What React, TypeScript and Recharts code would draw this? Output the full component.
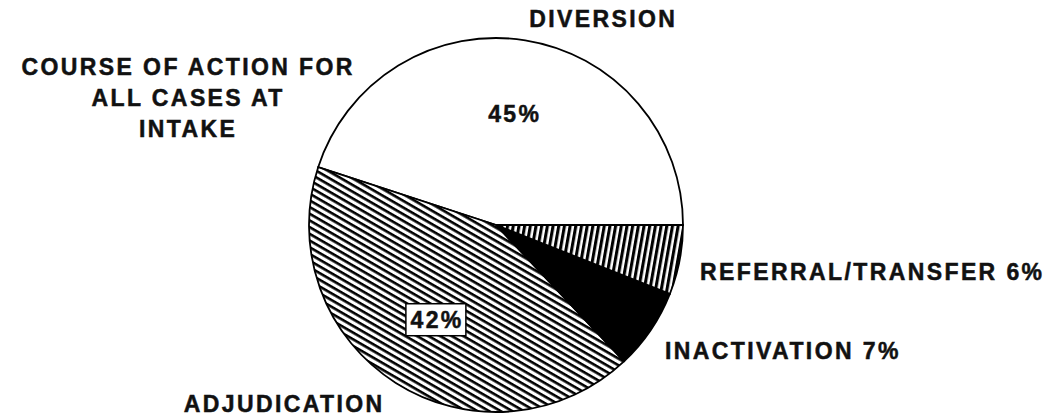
import { Pie, PieChart, Cell } from 'recharts';

const categories = ['DIVERSION', 'ADJUDICATION', 'INACTIVATION', 'REFERRAL/TRANSFER'];
const shares = [45, 42, 7, 6];
const titleLines = ['COURSE OF ACTION FOR', 'ALL CASES AT', 'INTAKE'];

const data = categories.map((name, i) => ({ name, value: shares[i] }));

const fills = ['#ffffff', 'url(#hatchDiag)', '#000000', 'url(#hatchVert)'];

const LS = 2.4;
const font = {
  fontFamily: '"Liberation Sans", Arial, Helvetica, sans-serif',
  fontWeight: 700,
  fontSize: 23,
  letterSpacing: LS,
  fill: '#111',
  stroke: '#111',
  strokeWidth: 0.5,
};

// where the outside labels sit (start anchor), keyed by slice index
const outsideLabels: Record<number, { x: number; y: number }> = {
  2: { x: 665, y: 359 },
  3: { x: 700, y: 280 },
};

const RAD = Math.PI / 180;

function renderLabel(props: any) {
  const { cx, cy, midAngle, outerRadius, index, value, name } = props;
  if (outsideLabels[index]) {
    const p = outsideLabels[index];
    return (
      <text key={name} x={p.x} y={p.y} style={font}>
        {`${name} ${value}%`}
      </text>
    );
  }
  const r = outerRadius * 0.6;
  const x = cx + r * Math.cos(-midAngle * RAD);
  const y = cy + r * Math.sin(-midAngle * RAD);
  return (
    <g key={name}>
      {index === 1 ? <rect x={x - 30} y={y - 16} width={60} height={32} fill="#fff" stroke="#000" strokeWidth={1.5} /> : null}
      <text x={x + LS / 2} y={y + 8} textAnchor="middle" style={font}>
        {`${value}%`}
      </text>
    </g>
  );
}

export default function App() {
  return (
    <div style={{ position: 'absolute', left: 0, top: 0, width: 1048, height: 418, background: '#fff' }}>
      <svg width={0} height={0} style={{ position: 'absolute' }}>
        <defs>
          <pattern id="hatchDiag" patternUnits="userSpaceOnUse" width={12} height={5.8} patternTransform="rotate(30)">
            <rect width={12} height={5.8} fill="#fff" />
            <rect y={0} width={12} height={2.6} fill="#000" />
          </pattern>
          <pattern id="hatchVert" patternUnits="userSpaceOnUse" width={5.6} height={12} patternTransform="rotate(10)">
            <rect width={5.6} height={12} fill="#fff" />
            <rect x={0} width={3.1} height={12} fill="#000" />
          </pattern>
        </defs>
      </svg>
      <PieChart width={1048} height={418} margin={{ top: 0, right: 0, bottom: 0, left: 0 }}>
        <Pie
          data={data}
          dataKey="value"
          nameKey="name"
          cx={496}
          cy={225}
          outerRadius={187}
          startAngle={0}
          endAngle={360}
          stroke="#000"
          strokeWidth={1.8}
          label={renderLabel}
          labelLine={false}
          isAnimationActive={false}
        >
          {data.map((d, i) => (
            <Cell key={d.name} fill={fills[i]} />
          ))}
        </Pie>
      </PieChart>
      <svg width={1048} height={418} style={{ position: 'absolute', left: 0, top: 0, pointerEvents: 'none' }}>
        <text x={602 + LS / 2} y={27} textAnchor="middle" style={font}>{categories[0]}</text>
        <text x={283 + LS / 2} y={412} textAnchor="middle" style={font}>{categories[1]}</text>
        {titleLines.map((line, i) => (
          <text key={line} x={187 + LS / 2} y={75 + i * 31} textAnchor="middle" style={font}>{line}</text>
        ))}
      </svg>
    </div>
  );
}
